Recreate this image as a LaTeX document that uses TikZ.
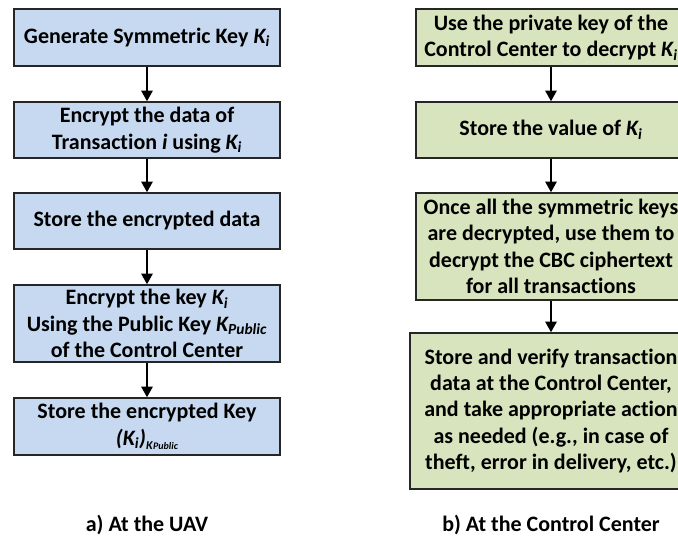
\documentclass[tikz,border=0pt]{standalone}
\usepackage{fontspec}
\setmainfont[Ligatures=NoCommon]{Carlito}
\usetikzlibrary{arrows.meta}
\definecolor{uavblue}{RGB}{198,217,241}
\definecolor{ccgreen}{RGB}{215,228,189}
\tikzstyle{stepbox} = [draw=black!85,line width=1.1pt,align=center,inner sep=2pt,font=\bfseries\fontsize{16.5}{19.8}\selectfont]
\tikzstyle{uavbox} = [stepbox,fill=uavblue,minimum width=199.5pt]
\tikzstyle{ccbox} = [stepbox,fill=ccgreen,minimum width=202.5pt]
\tikzstyle{caption} = [font=\bfseries\fontsize{16.5}{19.8}\selectfont]
\tikzstyle{flow} = [line width=1.5pt,-{Triangle[width=8.5pt,length=8pt]}]
\newcommand{\Ki}{\textit{K\textsubscript{i}}}
\newcommand{\Kpub}{\textit{K\textsubscript{Public}}}

\begin{document}
\begin{tikzpicture}[x=0.75pt,y=-0.75pt]
	\useasboundingbox (0,0) rectangle (678,542);
	\def \lx {147}
	\def \rx {551}
	% a) at the UAV
	\node (u1) at (\lx,37.5) [uavbox,minimum height=42.75pt] {Generate Symmetric Key \Ki};
	\node (u2) at (\lx,130) [uavbox,minimum height=42pt] {Encrypt the data of\\Transaction \textit{i} using \Ki};
	\node (u3) at (\lx,221) [uavbox,minimum height=42pt] {Store the encrypted data};
	\node (u4) at (\lx,323.5) [uavbox,minimum height=57.75pt] {Encrypt the key \Ki\\Using the Public Key \Kpub\\of the Control Center};
	\node (u5) at (\lx,426.5) [uavbox,minimum height=42.75pt] {Store the encrypted Key\\\textit{(K\textsubscript{i})}\raisebox{-3pt}{\fontsize{9}{9}\selectfont\textit{K}\fontsize{7.5}{7.5}\selectfont\textit{Public}}};
	\foreach \a/\b in {u1/u2,u2/u3,u3/u4,u4/u5} {
		\draw [flow] (\a.south) -- (\b.north);
	}
	\node (capa) at (\lx,525) [caption] {a) At the UAV};

	% b) at the Control Center
	\node (c1) at (\rx,37.5) [ccbox,minimum height=42.75pt] {Use the private key of the\\Control Center to decrypt \Ki};
	\node (c2) at (\rx,130) [ccbox,minimum height=42pt] {Store the value of \Ki};
	\node (c3) at (\rx,246.5) [ccbox,minimum height=80.25pt] {Once all the symmetric keys\\are decrypted, use them to\\decrypt the CBC ciphertext\\for all transactions};
	\node (c4) at (\rx,411) [ccbox,minimum width=211.5pt,minimum height=117pt] {Store and verify transaction\\data at the Control Center,\\and take appropriate action\\as needed (e.g., in case of\\theft, error in delivery, etc.)};
	\foreach \a/\b in {c1/c2,c2/c3,c3/c4} {
		\draw [flow] (\a.south) -- (\b.north);
	}
	\node (capb) at (\rx,525) [caption] {b) At the Control Center};
\end{tikzpicture}
\end{document}
